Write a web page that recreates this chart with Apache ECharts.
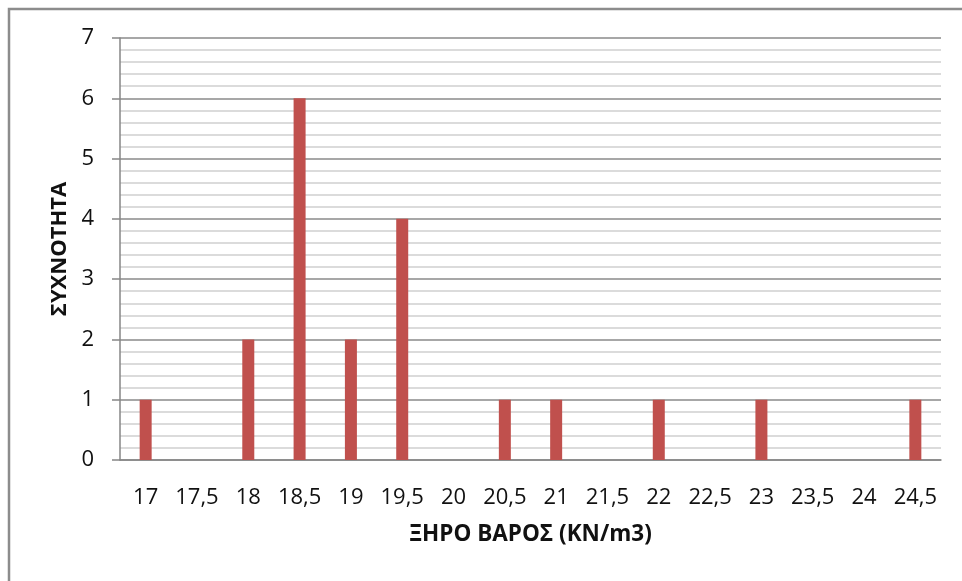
<!DOCTYPE html>
<html>
<head>
<meta charset="utf-8">
<title>ΞΗΡΟ ΒΑΡΟΣ</title>
<script src="https://cdn.jsdelivr.net/npm/echarts@6/dist/echarts.min.js"></script>
<style>
  html, body { margin: 0; padding: 0; background: #fff; }
  #chart { width: 962px; height: 581px; }
</style>
</head>
<body>
<div id="chart"></div>
<script>
// Dry unit weight classes (kN/m3) and how many samples fall in each
const categories = ['17', '17,5', '18', '18,5', '19', '19,5', '20', '20,5', '21', '21,5', '22', '22,5', '23', '23,5', '24', '24,5'];
const frequency = [1, 0, 2, 6, 2, 4, 0, 1, 1, 0, 1, 0, 1, 0, 0, 1];
const yTicks = [0, 1, 2, 3, 4, 5, 6, 7];

const FONT = '"Open Sans", "DejaVu Sans", sans-serif';
const chart = echarts.init(document.getElementById('chart'), null, { renderer: 'canvas' });

chart.setOption({
  animation: false,
  backgroundColor: '#ffffff',
  graphic: [{
    type: 'rect',
    shape: { x: 9, y: 9, width: 1000, height: 1000 },
    style: { fill: 'none', stroke: '#8c8c8c', lineWidth: 2.5 },
    silent: true
  }],
  grid: { left: 120, right: 21, top: 38, bottom: 121 },
  xAxis: {
    type: 'category',
    data: categories,
    name: 'ΞΗΡΟ ΒΑΡΟΣ (KN/m3)',
    nameLocation: 'middle',
    nameGap: 63,
    nameTextStyle: { fontFamily: FONT, fontSize: 22.5, fontWeight: 'bold', color: '#111' },
    axisLine: { lineStyle: { color: '#868686', width: 1.5 } },
    axisTick: { show: false },
    axisLabel: { fontFamily: FONT, fontSize: 22, color: '#111', margin: 27, interval: 0 },
    splitLine: { show: false }
  },
  yAxis: {
    type: 'value',
    min: yTicks[0],
    max: yTicks[yTicks.length - 1],
    interval: 1,
    name: 'ΣΥΧΝΟΤΗΤΑ',
    nameLocation: 'middle',
    nameGap: 47,
    nameRotate: 90,
    nameTextStyle: { fontFamily: FONT, fontSize: 22, fontWeight: 'bold', color: '#111' },
    axisLine: { show: true, lineStyle: { color: '#868686', width: 1.5 } },
    axisTick: { show: true, length: 8, lineStyle: { color: '#868686', width: 1.5 } },
    axisLabel: { fontFamily: FONT, fontSize: 22, color: '#111', margin: 26 },
    splitLine: { show: true, lineStyle: { color: '#8a8a8a', width: 1.5 } },
    minorTick: { show: false, splitNumber: 5 },
    minorSplitLine: { show: true, lineStyle: { color: '#cfcfcf', width: 1.5 } }
  },
  series: [{
    type: 'bar',
    data: frequency,
    barWidth: 12,
    itemStyle: { color: '#C0504D' },
    z: 3
  }]
});
</script>
</body>
</html>
